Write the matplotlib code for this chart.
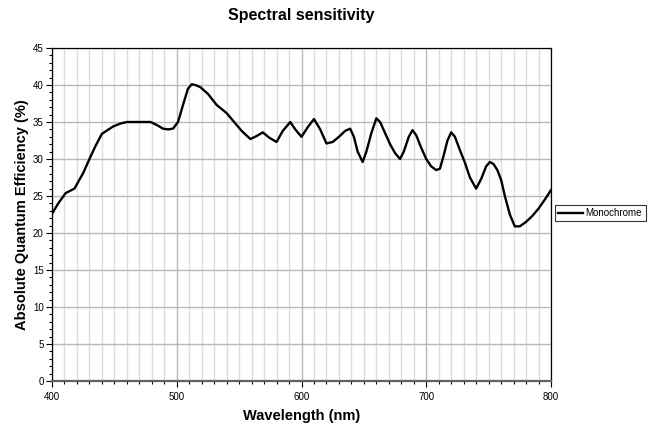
import numpy as np
from matplotlib import pyplot as plt
from matplotlib.ticker import MultipleLocator

plt.rcParams['font.family'] = ['Liberation Sans', 'DejaVu Sans']

# wavelength (nm) and quantum efficiency (%)
wavelength = [400, 405, 411, 418, 425, 430, 435, 440, 449, 455, 460, 470, 479, 484, 489,
              493, 497, 501, 505, 509, 512, 515, 519, 525, 532, 540, 546, 552, 559, 564,
              569, 574, 580, 585, 591, 595, 600, 605, 610, 615, 620, 625, 630, 635, 639,
              642, 645, 649, 652, 656, 660, 663, 667, 671, 675, 679, 682, 686, 689, 692,
              696, 700, 704, 708, 711, 714, 717, 720, 723, 727, 731, 735, 740, 744, 748,
              751, 754, 757, 760, 763, 767, 771, 775, 780, 785, 790, 795, 800]
qe_mono = [22.6, 24.0, 25.4, 26.0, 28.1, 30.0, 31.8, 33.4, 34.4, 34.8, 35.0, 35.0, 35.0, 34.6, 34.1,
           34.0, 34.1, 35.0, 37.3, 39.5, 40.1, 40.0, 39.7, 38.8, 37.3, 36.2, 35.0, 33.8, 32.7, 33.1,
           33.6, 32.9, 32.3, 33.8, 35.0, 34.0, 33.0, 34.3, 35.4, 34.0, 32.1, 32.3, 33.0, 33.8, 34.1,
           33.0, 31.0, 29.6, 31.0, 33.5, 35.5, 35.0, 33.5, 32.0, 30.8, 30.0, 31.0, 33.0, 33.9, 33.2,
           31.5, 30.0, 29.0, 28.5, 28.7, 30.5, 32.5, 33.6, 33.0, 31.2, 29.5, 27.5, 26.0, 27.3, 29.0,
           29.6, 29.3, 28.5, 27.2, 25.0, 22.5, 20.9, 20.9, 21.5, 22.3, 23.3, 24.5, 25.8]

fig = plt.figure(figsize=(6.52, 4.28), dpi=100)
ax = fig.add_axes([52/652, 47/428, 499/652, 333/428])

ax.plot(wavelength, qe_mono, color='black', linewidth=1.7, label='Monochrome', zorder=3)

ax.set_xlim(400, 800)
ax.set_ylim(0, 45)
ax.xaxis.set_major_locator(MultipleLocator(100))
ax.xaxis.set_minor_locator(MultipleLocator(10))
ax.yaxis.set_major_locator(MultipleLocator(5))
ax.yaxis.set_minor_locator(MultipleLocator(1))

# grid: light every 10 nm, darker every 100 nm and every 5 %
ax.grid(True, which='minor', axis='x', color='#dcdcdc', linewidth=1.0)
ax.grid(True, which='major', axis='x', color='#b8b8b8', linewidth=1.0)
ax.grid(True, which='major', axis='y', color='#b8b8b8', linewidth=1.0)
ax.set_axisbelow(True)

ax.tick_params(which='both', direction='out', labelsize=7, colors='black', width=0.8)
ax.tick_params(which='major', length=4)
ax.tick_params(which='minor', length=2.5)
ax.tick_params(axis='x', pad=4)
ax.tick_params(axis='y', pad=2)

for side in ['left', 'right', 'top']:
    ax.spines[side].set_color('black')
    ax.spines[side].set_linewidth(0.9)
ax.spines['bottom'].set_color('#606060')
ax.spines['bottom'].set_linewidth(1.6)

ax.set_title('Spectral sensitivity', fontsize=11.5, fontweight='bold', pad=20)
ax.set_xlabel('Wavelength (nm)', fontsize=10.5, fontweight='bold', labelpad=5)
ax.set_ylabel('Absolute Quantum Efficiency (%)', fontsize=10.5, fontweight='bold', labelpad=3)

leg = ax.legend(loc='center left', bbox_to_anchor=(555/652, 215/428), bbox_transform=fig.transFigure,
                fontsize=7, frameon=True, fancybox=False, edgecolor='black',
                handlelength=2.5, borderpad=0.35, handletextpad=0.3, borderaxespad=0)
leg.get_frame().set_linewidth(0.8)

fig.savefig('out.png', dpi=100)
